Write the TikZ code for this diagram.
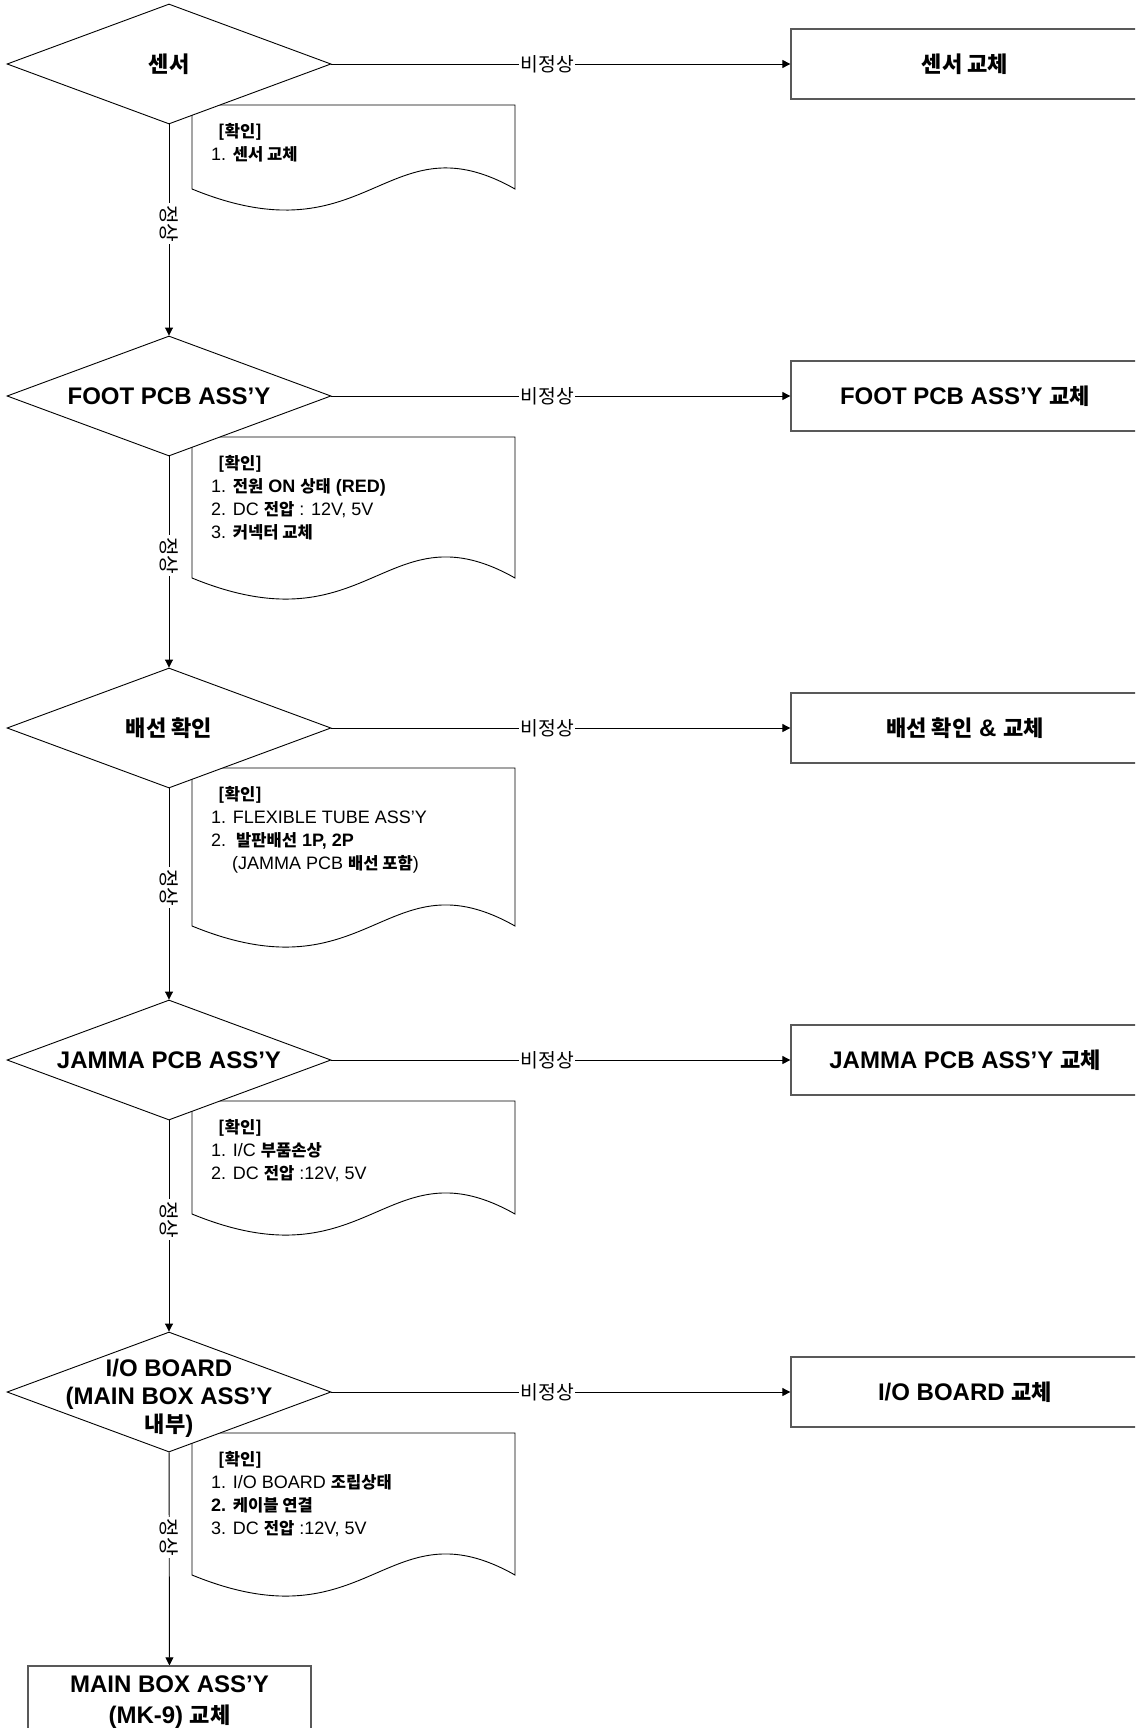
\documentclass[tikz,border=0pt]{standalone}
\usepackage{fontspec}
\setmainfont{Liberation Sans}
\newfontfamily\krfont{Noto Sans CJK KR}[Scale=0.92]
\newcommand\kr[1]{{\krfont\bfseries #1}}
\usetikzlibrary{shapes.geometric,arrows.meta}

\begin{document}
\begin{tikzpicture}[x=1pt,y=-1pt]
		\tikzstyle{every node}=[font=\fontsize{18}{23}\selectfont]
		\tikzstyle{decision}=[diamond, draw, fill=white, line width=0.9pt, minimum width=324pt, minimum height=120pt, inner sep=0pt]
		\tikzstyle{dtitle}=[align=center, inner sep=0pt, font=\bfseries\fontsize{24}{28}\selectfont]
		\tikzstyle{result}=[draw=black!65, line width=1.3pt, minimum width=348pt, minimum height=70pt, align=center, font=\bfseries\fontsize{24}{31}\selectfont]
		\tikzstyle{note}=[draw, fill=white, line width=0.9pt]
		\tikzstyle{notetext}=[anchor=north west, align=left, inner sep=0pt, font=\fontsize{18}{23}\selectfont]
		\tikzstyle{flow}=[line width=0.9pt, -{Triangle[length=8pt,width=8pt]}]
		\tikzstyle{nglabel}=[fill=white, inner xsep=1pt, inner ysep=2pt, font=\krfont\fontsize{21}{25}\selectfont]
		\tikzstyle{oklabel}=[fill=white, rotate=-90, inner xsep=2pt, inner ysep=1pt, font=\krfont\fontsize{22}{26}\selectfont]
		
		\useasboundingbox (0,0) rectangle (1135,1728);
		\clip (0,0) rectangle (1135,1728);
		
		\draw[note] (192,105) -- (515,105) -- (515,189) .. controls (386,116) and (370,262) .. (192,189) -- cycle;
		\draw[note] (192,437) -- (515,437) -- (515,578) .. controls (386,505) and (370,651) .. (192,578) -- cycle;
		\draw[note] (192,768) -- (515,768) -- (515,926) .. controls (386,853) and (370,999) .. (192,926) -- cycle;
		\draw[note] (192,1101) -- (515,1101) -- (515,1214) .. controls (386,1141) and (370,1287) .. (192,1214) -- cycle;
		\draw[note] (192,1433) -- (515,1433) -- (515,1575) .. controls (386,1502) and (370,1648) .. (192,1575) -- cycle;
		
		\node[notetext] (n1) at (211,123) {\hspace*{7pt}\kr{[확인]}\\1. \kr{센서 교체}};
		\node[notetext] (n2) at (211,455) {\hspace*{7pt}\kr{[확인]}\\1. \kr{전원} \textbf{ON} \kr{상태} \textbf{(RED)}\\2. DC \kr{전압} : 12V, 5V\\3. \kr{커넥터 교체}};
		\node[notetext] (n3) at (211,786) {\hspace*{7pt}\kr{[확인]}\\1. FLEXIBLE TUBE ASS’Y\\2.\ \ \kr{발판배선} \textbf{1P, 2P}\\\hspace*{21pt}(JAMMA PCB \kr{배선 포함})};
		\node[notetext] (n4) at (211,1119) {\hspace*{7pt}\kr{[확인]}\\1. I/C \kr{부품손상}\\2. DC \kr{전압} :12V, 5V};
		\node[notetext] (n5) at (211,1451) {\hspace*{7pt}\kr{[확인]}\\1. I/O BOARD \kr{조립상태}\\\textbf{2.} \kr{케이블 연결}\\3. DC \kr{전압} :12V, 5V};
		
		\node[decision] (d1) at (169,64) {};
		\node[decision] (d2) at (169,396) {};
		\node[decision] (d3) at (169,728) {};
		\node[decision] (d4) at (169,1060) {};
		\node[decision] (d5) at (169,1392) {};
		
		\node[dtitle] (t1) at (d1) {\kr{센서}};
		\node[dtitle] (t2) at (d2) {FOOT PCB ASS’Y};
		\node[dtitle] (t3) at (d3) {\kr{배선 확인}};
		\node[dtitle] (t4) at (d4) {JAMMA PCB ASS’Y};
		\node[dtitle, yshift=-6pt] (t5) at (d5) {I/O BOARD\\(MAIN BOX ASS’Y\\\kr{내부})};
		
		\node[result] (r1) at (965,64) {\kr{센서 교체}};
		\node[result] (r2) at (965,396) {FOOT PCB ASS’Y \kr{교체}};
		\node[result] (r3) at (965,728) {\kr{배선 확인} \& \kr{교체}};
		\node[result] (r4) at (965,1060) {JAMMA PCB ASS’Y \kr{교체}};
		\node[result] (r5) at (965,1392) {I/O BOARD \kr{교체}};
		\node[result, minimum width=283pt, minimum height=72pt] (b1) at (169.5,1702) {MAIN BOX ASS’Y\\(MK-9) \kr{교체}};
		
		\draw[flow] (d1) -- (r1) node[nglabel, pos=0.47] (ng1) {비정상};
		\draw[flow] (d2) -- (r2) node[nglabel, pos=0.47] (ng2) {비정상};
		\draw[flow] (d3) -- (r3) node[nglabel, pos=0.47] (ng3) {비정상};
		\draw[flow] (d4) -- (r4) node[nglabel, pos=0.47] (ng4) {비정상};
		\draw[flow] (d5) -- (r5) node[nglabel, pos=0.47] (ng5) {비정상};
		
		\draw[flow] (d1) -- (d2) node[oklabel, pos=0.47] (ok1) {정상};
		\draw[flow] (d2) -- (d3) node[oklabel, pos=0.47] (ok2) {정상};
		\draw[flow] (d3) -- (d4) node[oklabel, pos=0.47] (ok3) {정상};
		\draw[flow] (d4) -- (d5) node[oklabel, pos=0.47] (ok4) {정상};
		\draw[flow] (d5) -- (b1) node[oklabel, pos=0.4] (ok5) {정상};
		
	\end{tikzpicture}
\end{document}
